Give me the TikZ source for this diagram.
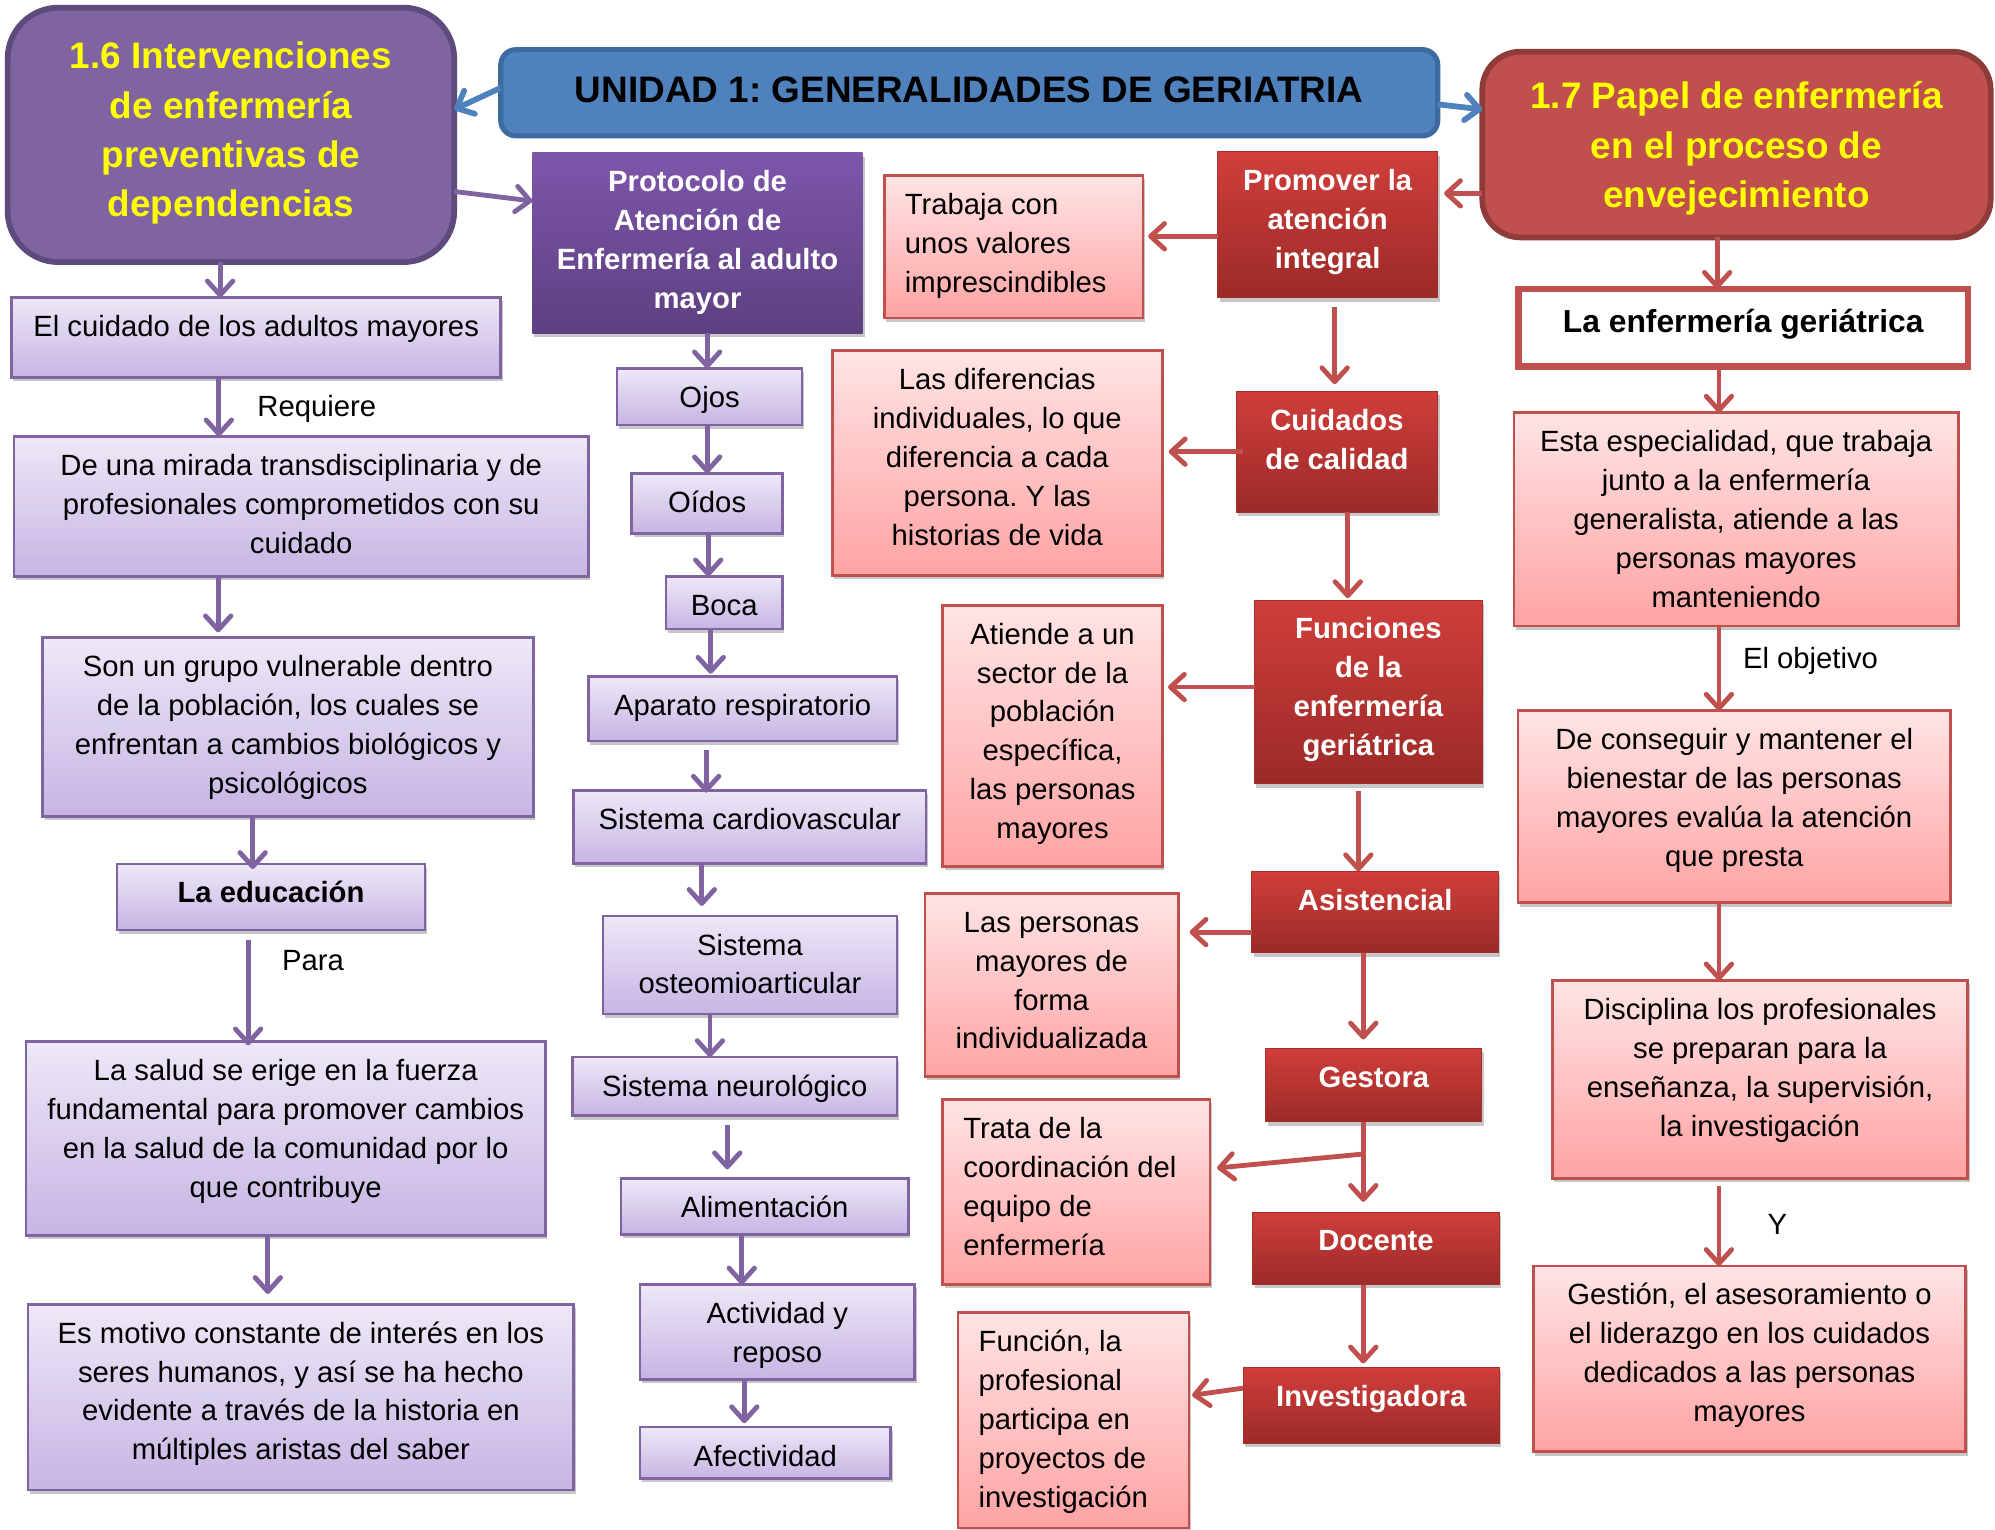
\documentclass[tikz,border=0pt]{standalone}
\usepackage{fontspec}
\setmainfont{Liberation Sans}
\usetikzlibrary{arrows.meta,shadows}
\frenchspacing
\definecolor{arP}{HTML}{8064A2}
\definecolor{lavT}{HTML}{EEE8F7}
\definecolor{lavB}{HTML}{C7B4E4}
\definecolor{pkT}{HTML}{FFE4E5}
\definecolor{pkB}{HTML}{FFA3A3}
\definecolor{pkD}{HTML}{C0504D}
\definecolor{rdT}{HTML}{D03E3B}
\definecolor{rdB}{HTML}{9B2A28}
\definecolor{prT}{HTML}{7D56AB}
\definecolor{prB}{HTML}{5D4080}
\definecolor{blF}{HTML}{4F81BD}
\definecolor{blD}{HTML}{3D6AA0}
\definecolor{vioF}{HTML}{8064A2}
\definecolor{vioD}{HTML}{5E4A7D}
\definecolor{redF}{HTML}{C0504D}
\definecolor{redD}{HTML}{8E3B39}
\definecolor{ylw}{HTML}{FFFF00}
\newcommand\fs{\fontsize{23}{30.6}\selectfont}
\newcommand\fbig{\fontsize{29}{38.8}\selectfont\bfseries}
\newcommand\fmid{\fontsize{25}{33}\selectfont\bfseries}
\tikzset{
 shd/.style={drop shadow={shadow xshift=1.5pt,shadow yshift=-3pt,opacity=0.22,fill=black}},
 lav/.style={draw=arP, line width=2.2pt, top color=lavT, bottom color=lavB, shd},
 pnk/.style={draw=pkD, line width=2.2pt, top color=pkT, bottom color=pkB, shd},
 rdbox/.style={draw=rdB!80!rdT, line width=0.8pt, top color=rdT, bottom color=rdB, shd},
 prot/.style={draw=none, top color=prT, bottom color=prB, shd},
 txt/.style={inner sep=0pt, align=center, font=\fs},
 wtxt/.style={txt, text=white, font=\fs\bfseries},
 parr/.style={draw=arP, line width=3.8pt, -{Straight Barb[length=11pt,width=20pt,round]}},
 rarr/.style={parr, draw=redF},
 barr/.style={parr, draw=blF, line width=4.5pt},
 lbl/.style={inner sep=0pt, font=\fs, anchor=base},
}
% centred text box: [text style] name, box style, x1, y1, x2, y2, text
\newcommand\bxc[8][txt]{%
 \node[#3, anchor=north west, outer sep=0pt, inner sep=0pt, minimum width={#6-#4}, minimum height={#7-#5}] (#2) at (#4,#5) {};
 \node[#1, anchor=north, yshift=-9pt] (#2t) at (#2.north) {\strut#8};}
% left-aligned text box
\newcommand\bxl[8][txt]{%
 \node[#3, anchor=north west, outer sep=0pt, inner sep=0pt, minimum width={#6-#4}, minimum height={#7-#5}] (#2) at (#4,#5) {};
 \node[#1, align=left, anchor=north west, xshift=16pt, yshift=-9pt] (#2t) at (#2.north west) {\strut#8};}
\begin{document}
\begin{tikzpicture}[x=1pt,y=-1pt]
\useasboundingbox (0,0) rectangle (1568,1202.5);
\fill[white] (0,0) rectangle (1568,1202.5);

% ---- top boxes
\node[draw=blD, fill=blF, line width=4pt, rounded corners=12pt, anchor=north west, outer sep=0pt,
      minimum width=736.4, minimum height=67.8] (T) at (393.6,39) {};
\node[inner sep=0pt, font=\fbig, anchor=north, yshift=-14pt] (Tt) at (T.north) {\strut UNIDAD 1: GENERALIDADES DE GERIATRIA};

\node[draw=vioD, fill=vioF, line width=4.5pt, rounded corners=40pt, anchor=north west, outer sep=0pt,
      minimum width=351, minimum height=200] (BL) at (6,6) {};
\node[inner sep=0pt, font=\fbig, text=ylw, align=center, anchor=north, yshift=-20.6pt] (BLt) at (BL.north)
  {\strut 1.6 Intervenciones\\de enfermería\\preventivas de\\dependencias};

\node[draw=redD, fill=redF, line width=4.5pt, rounded corners=30pt, anchor=north west, outer sep=0pt,
      minimum width=399.6, minimum height=146] (BR) at (1165,40.6) {};
\node[inner sep=0pt, font=\fbig, text=ylw, align=center, anchor=north, yshift=-17.6pt] (BRt) at (BR.north)
  {\strut 1.7 Papel de enfermería\\en el proceso de\\envejecimiento};

% ---- left column
\bxc{L1}{lav}{9}{233.8}{393.6}{296.4}{El cuidado de los adultos mayores}
\bxc{L2}{lav}{11}{343}{462.5}{453}{De una mirada transdisciplinaria y de\\profesionales comprometidos con su\\cuidado}
\bxc{L3}{lav}{33.6}{501}{419}{641.6}{Son un grupo vulnerable dentro\\de la población, los cuales se\\enfrentan a cambios biológicos y\\psicológicos}
\bxc[txt,font=\fs\bfseries]{L4}{lav}{92}{679}{334}{731}{La educación}
\bxc{L5}{lav}{20.4}{818.6}{428.7}{971}{La salud se erige en la fuerza\\fundamental para promover cambios\\en la salud de la comunidad por lo\\que contribuye}
\bxc{L6}{lav}{22}{1025}{451}{1171}{Es motivo constante de interés en los\\seres humanos, y así se ha hecho\\evidente a través de la historia en\\múltiples aristas del saber}

% ---- middle column
\bxc[wtxt]{P0}{prot}{418.5}{120}{678}{262}{Protocolo de\\Atención de\\Enfermería al adulto\\mayor}
\bxc{M1}{lav}{485}{289.5}{630.4}{334}{Ojos}
\bxc{M2}{lav}{496.5}{372}{615}{419}{Oídos}
\bxc{M3}{lav}{523.5}{453}{615}{494.4}{Boca}
\bxc{M4}{lav}{462.4}{531.5}{705}{582.4}{Aparato respiratorio}
\bxc{M5}{lav}{450.8}{621}{727.8}{678.7}{Sistema cardiovascular}
\bxc{M6}{lav}{474}{720}{705}{797}{Sistema\\osteomioarticular}
\bxc{M7}{lav}{450}{830.8}{705}{877}{Sistema neurológico}
\bxc{M8}{lav}{488}{926}{714}{970}{Alimentación}
\bxc{M9}{lav}{503}{1009.6}{719}{1084}{Actividad y\\reposo}
\bxc{M10}{lav}{503}{1121.6}{700}{1162}{Afectividad}

% ---- pink boxes
\bxl{P1}{pnk}{695}{138}{898.4}{250}{Trabaja con\\unos valores\\imprescindibles}
\bxc{P2}{pnk}{654}{275.4}{913.6}{452}{Las diferencias\\individuales, lo que\\diferencia a cada\\persona. Y las\\historias de vida}
\bxc{P3}{pnk}{741}{475.6}{913.5}{680.8}{Atiende a un\\sector de la\\población\\específica,\\las personas\\mayores}
\bxc{P4}{pnk}{727}{702}{926}{846}{Las personas\\mayores de\\forma\\individualizada}
\bxl{P5}{pnk}{741}{864}{951}{1009.6}{Trata de la\\coordinación del\\equipo de\\enfermería}
\bxl{P6}{pnk}{753}{1031.5}{934.5}{1201}{Función, la\\profesional\\participa en\\proyectos de\\investigación}

% ---- red column
\bxc[wtxt]{R0}{rdbox}{957}{119.4}{1130}{234}{Promover la\\atención\\integral}
\bxc[wtxt]{Cu}{rdbox}{971.6}{307.5}{1130}{402.6}{Cuidados\\de calidad}
\bxc[wtxt]{Fn}{rdbox}{986}{471.6}{1165}{616}{Funciones\\de la\\enfermería\\geriátrica}
\bxc[wtxt]{As}{rdbox}{984}{684.8}{1177.6}{749}{Asistencial}
\bxc[wtxt]{Ge}{rdbox}{995}{824}{1164.6}{881.6}{Gestora}
\bxc[wtxt]{Do}{rdbox}{984.5}{952.6}{1178.5}{1009.6}{Docente}
\bxc[wtxt]{In}{rdbox}{977}{1074.6}{1178.5}{1134.3}{Investigadora}

% ---- right column
\node[draw=redF, fill=white, line width=5pt, anchor=north west, outer sep=0pt,
      minimum width=353, minimum height=61] (R1) at (1193.6,227) {};
\node[inner sep=0pt, font=\fmid, anchor=north, yshift=-11.3pt] (R1t) at (R1.north) {\strut La enfermería geriátrica};
\bxc{E2}{pnk}{1190}{324.3}{1539}{492}{Esta especialidad, que trabaja\\junto a la enfermería\\generalista, atiende a las\\personas mayores\\manteniendo}
\bxc{E3}{pnk}{1193}{558.6}{1533}{709.5}{De conseguir y mantener el\\bienestar de las personas\\mayores evalúa la atención\\que presta}
\bxc{E4}{pnk}{1220}{770.6}{1546.6}{926}{Disciplina los profesionales\\se preparan para la\\enseñanza, la supervisión,\\la investigación}
\bxc{E5}{pnk}{1205}{995}{1545}{1141}{Gestión, el asesoramiento o\\el liderazgo en los cuidados\\dedicados a las personas\\mayores}

% ---- labels
\node[lbl] (lq) at (249,327.6) {Requiere};
\node[lbl] (lp) at (246,762.8) {Para};
\node[lbl] (lo) at (1423,525.5) {El objetivo};
\node[lbl] (ly) at (1397,970) {Y};

% ---- blue arrows
\draw[barr] (T.west |- 0,69) -- (BL.east |- 0,86);
\draw[barr] (T.east |- 0,82) -- (BR.west |- 0,86);

% ---- purple arrows
\draw[parr] (BL.east |- 0,150.5) -- (P0.west |- 0,158);
\draw[parr] (BL.south -| 173,0) -- (L1.north -| 173,0);
\draw[parr] (L1.south -| 172,0) -- (L2.north -| 172,0);
\draw[parr, shorten >=4pt] (L2.south -| 171.5,0) -- (L3.north -| 171.5,0);
\draw[parr, shorten >=-4pt] (L3.south -| 198.6,0) -- (L4.north -| 198.6,0);
\draw[parr, shorten <=8pt, shorten >=-3pt] (L4.south -| 195,0) -- (L5.north -| 195,0);
\draw[parr, shorten >=8pt] (L5.south -| 210.5,0) -- (L6.north -| 210.5,0);

\draw[parr] (P0.south -| 555.8,0) -- (M1.north -| 555.8,0);
\draw[parr] (M1.south -| 555.8,0) -- (M2.north -| 555.8,0);
\draw[parr] (M2.south -| 556.6,0) -- (M3.north -| 556.6,0);
\draw[parr, shorten >=2pt] (M3.south -| 558.6,0) -- (M4.north -| 558.6,0);
\draw[parr, shorten <=7pt, shorten >=-2pt] (M4.south -| 555,0) -- (M5.north -| 555,0);
\draw[parr, shorten >=8pt] (M5.south -| 551.6,0) -- (M6.north -| 551.6,0);
\draw[parr] (M6.south -| 558,0) -- (M7.north -| 558,0);
\draw[parr, shorten <=7pt, shorten >=7pt] (M7.south -| 571.6,0) -- (M8.north -| 571.6,0);
\draw[parr] (M8.south -| 583,0) -- (M9.north -| 583,0);
\draw[parr, shorten >=3pt] (M9.south -| 585,0) -- (M10.north -| 585,0);

% ---- red arrows
\draw[rarr, shorten >=5pt] (BR.west |- 0,152) -- (R0.east |- 0,152);
\draw[rarr, shorten >=4pt] (R0.west |- 0,185.7) -- (P1.east |- 0,185.7);
\draw[rarr, shorten <=7pt, shorten >=5.5pt] (R0.south -| 1049,0) -- (Cu.north -| 1049,0);
\draw[rarr, shorten <=-5pt, shorten >=5pt] (Cu.west |- 0,355) -- (P2.east |- 0,355);
\draw[rarr, shorten >=1.5pt] (Cu.south -| 1059.3,0) -- (Fn.north -| 1059.3,0);
\draw[rarr, shorten >=4.5pt] (Fn.west |- 0,540) -- (P3.east |- 0,540);
\draw[rarr, shorten <=5.6pt] (Fn.south -| 1067.6,0) -- (As.north -| 1067.6,0);
\draw[rarr, shorten >=9pt] (As.west |- 0,732.6) -- (P4.east |- 0,732.6);
\draw[rarr, shorten >=7pt] (As.south -| 1071.5,0) -- (Ge.north -| 1071.5,0);
\draw[rarr, shorten >=8pt] (Ge.south -| 1071.5,0) -- (Do.north -| 1071.5,0);
\coordinate (gj) at (1071.5,907);
\draw[rarr, shorten >=5.6pt] (gj) -- (P5.east |- 0,918.5);
\draw[rarr, shorten >=3pt] (Do.south -| 1071.5,0) -- (In.north -| 1071.5,0);
\draw[rarr, shorten >=2.5pt] (In.west |- 0,1091) -- (P6.east |- 0,1097);

\draw[rarr] (BR.south -| 1349.6,0) -- (R1.north -| 1349.6,0);
\draw[rarr] (R1.south -| 1351,0) -- (E2.north -| 1351,0);
\draw[rarr] (E2.south -| 1351,0) -- (E3.north -| 1351,0);
\draw[rarr] (E3.south -| 1351,0) -- (E4.north -| 1351,0);
\draw[rarr, shorten <=6pt] (E4.south -| 1351,0) -- (E5.north -| 1351,0);
\end{tikzpicture}
\end{document}
